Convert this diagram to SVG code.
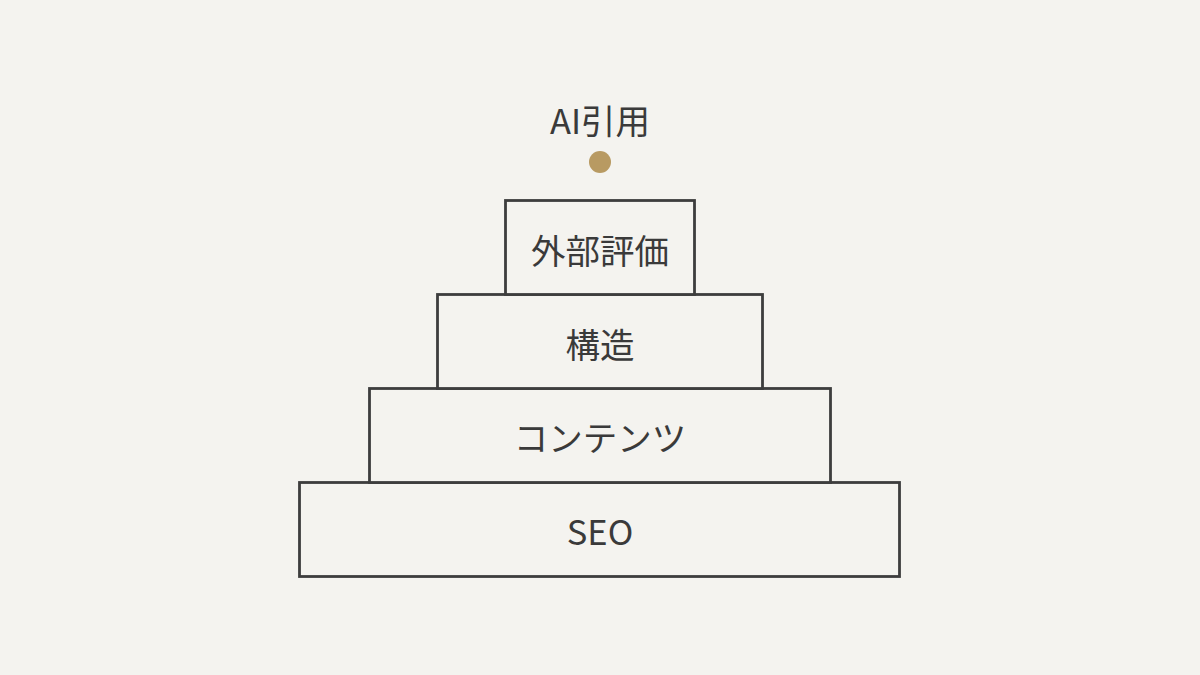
<svg xmlns="http://www.w3.org/2000/svg" width="1200" height="675" viewBox="0 0 1200 675">
<style>
.box{fill:#f4f3ef;stroke:#3d3d3d;stroke-width:2.8}
.t{font-family:"Noto Sans CJK JP","Noto Sans",sans-serif;font-size:34.5px;fill:#3a3a3a;text-anchor:middle;dominant-baseline:central}
</style>
<rect width="1200" height="675" fill="#f4f3ef"/>
<g id="connectors"></g>
<g id="seo"><rect class="box" x="299.5" y="482.5" width="600" height="94"/><text class="t" x="600" y="530">SEO</text></g>
<g id="content"><rect class="box" x="369.5" y="388.5" width="461" height="94"/><text class="t" x="600" y="436">コンテンツ</text></g>
<g id="structure"><rect class="box" x="437.5" y="294.5" width="325" height="94"/><text class="t" x="600" y="343">構造</text></g>
<g id="external"><rect class="box" x="505.5" y="200.5" width="189" height="94"/><text class="t" x="600" y="249">外部評価</text></g>
<g id="ai"><circle cx="600" cy="162" r="11" fill="#b89a62"/><text class="t" x="600" y="119">AI引用</text></g>
</svg>
